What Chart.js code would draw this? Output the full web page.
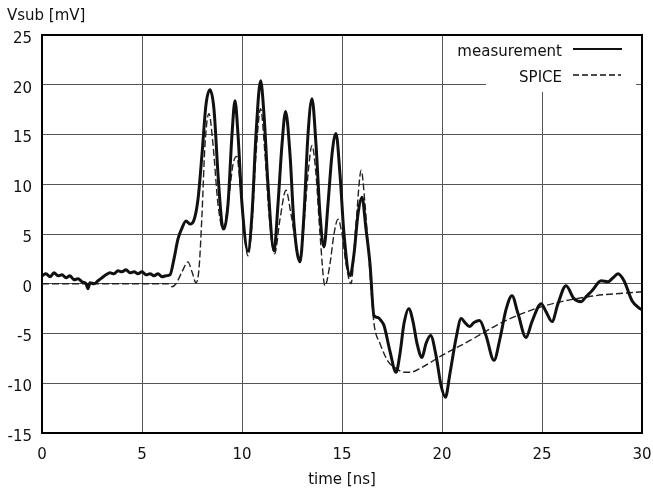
<!DOCTYPE html>
<html lang="en">
<head>
    <meta charset="UTF-8">
    <title>Vsub measurement vs SPICE</title>
    <script src="https://cdn.jsdelivr.net/npm/chart.js"></script>
    <style>
        body {
            margin: 0;
            background: #fff;
        }
        .wrap {
            width: 653px;
            height: 493px;
            position: relative;
        }
    </style>
</head>
<body>
    <div class="wrap">
        <canvas id="vsubChart"></canvas>
    </div>

    <script>
        // measured substrate voltage (ns, mV)
        const measTime = [
            0.0, 0.2, 0.4, 0.6, 0.8, 1.0, 1.2, 1.4, 1.6, 1.8, 2.0, 2.2, 2.3, 2.4, 2.6, 2.8,
            3.0, 3.2, 3.4, 3.6, 3.8, 4.0, 4.2, 4.4, 4.6, 4.8, 5.0, 5.2, 5.4, 5.6, 5.8, 6.0,
            6.2, 6.4, 6.6, 6.8, 7.0, 7.2, 7.4, 7.6, 7.8, 8.0, 8.2, 8.4, 8.6, 8.8, 9.0, 9.1,
            9.3, 9.5, 9.65, 9.8, 10.0, 10.3, 10.5, 10.7, 10.93, 11.1, 11.3, 11.6, 11.8, 12.0,
            12.18, 12.4, 12.6, 12.9, 13.1, 13.3, 13.5, 13.7, 13.9, 14.1, 14.3, 14.5, 14.7,
            14.9, 15.1, 15.4, 15.6, 15.8, 16.0, 16.2, 16.4, 16.6, 16.8, 16.95, 17.1, 17.4,
            17.7, 17.9, 18.1, 18.34, 18.55, 18.75, 19.0, 19.2, 19.43, 19.7, 19.95, 20.17,
            20.4, 20.7, 20.96, 21.15, 21.37, 21.6, 21.88, 22.2, 22.6, 22.9, 23.2, 23.5, 23.8,
            24.2, 24.5, 24.96, 25.2, 25.5, 25.8, 26.2, 26.6, 26.96, 27.2, 27.5, 27.96, 28.3,
            28.55, 28.8, 29.1, 29.5, 29.9, 30.0
        ];
        const measValue = [
            0.8, 1.0, 0.7, 1.1, 0.8, 0.9, 0.6, 0.8, 0.4, 0.5, 0.2, 0.0, -0.5, 0.1, 0.0, 0.3,
            0.6, 0.9, 1.1, 1.0, 1.3, 1.2, 1.4, 1.1, 1.2, 1.0, 1.2, 0.9, 1.0, 0.8, 1.0, 0.7,
            0.8, 0.9, 2.5, 4.5, 5.6, 6.3, 6.0, 6.4, 8.5, 13, 18, 19.5, 17.5, 11, 6, 5.5,
            8, 15, 18.4, 15, 8, 3.3, 7, 15, 20.4, 17, 10, 3.3, 8, 14,
            17.3, 13, 6, 2.2, 7, 15, 18.6, 14, 7, 3.7, 8, 13, 15.1,
            11, 5, 0.8, 3, 7, 8.7, 5.5, 2.0, -3.2, -3.4, -3.7, -4.2, -6.8,
            -8.9, -7.0, -4.0, -2.5, -3.8, -6.0, -7.4, -6.0, -5.2, -7.2, -10.2, -11.4,
            -9.0, -5.5, -3.5, -3.9, -4.3, -3.9, -3.7, -5.2, -7.7, -5.5, -2.6, -1.2, -3.0,
            -5.4, -3.8, -2.0, -2.8, -3.8, -2.0, -0.2, -1.5, -1.8, -1.3, -0.7, 0.3, 0.2,
            0.6, 1.0, 0.3, -1.7, -2.5, -2.6
        ];

        // SPICE simulation (ns, mV)
        const spiceTime = [
            0, 6.3, 6.5, 6.7, 7.0, 7.3, 7.5, 7.7, 7.85, 8.0, 8.15, 8.35, 8.55, 8.8, 9.05,
            9.3, 9.55, 9.74, 9.95, 10.3, 10.5, 10.7, 10.93, 11.15, 11.35, 11.63, 11.9, 12.2,
            12.45, 12.9, 13.1, 13.3, 13.5, 13.7, 13.9, 14.15, 14.4, 14.6, 14.8, 15.0, 15.2,
            15.45, 15.7, 15.96, 16.15, 16.4, 16.6, 16.9, 17.3, 17.7, 18.1, 18.4, 19.0, 20.0,
            21.4, 22.7, 23.4, 25.0, 27.3, 30.0
        ];
        const spiceValue = [
            0, 0, -0.3, 0.0, 1.2, 2.2, 1.2, 0.1, 1.5, 7, 14, 17.1, 14, 8, 5.5,
            8, 12, 12.8, 9, 2.8, 6, 13, 17.6, 13, 7, 3.0, 6.5, 9.4,
            7, 2.2, 6, 11, 13.9, 11, 5, -0.2, 2, 5, 6.5, 5, 2,
            0, 6, 11.4, 8, 1.0, -4.0, -6.0, -7.8, -8.5, -8.9, -8.9, -8.4, -7.2,
            -5.7, -4.2, -3.5, -2.3, -1.3, -0.8
        ];

        const xTicks = [0, 5, 10, 15, 20, 25, 30];
        const yTicks = [-15, -10, -5, 0, 5, 10, 15, 20, 25];

        const FONT = "'DejaVu Sans', sans-serif";

        // frame, y label and the gnuplot-like key
        const decorPlugin = {
            id: "decor",
            afterDraw(chart) {
                const ctx = chart.ctx;
                const a = chart.chartArea;
                ctx.save();

                // key box
                ctx.fillStyle = "#fff";
                ctx.fillRect(486, a.top + 1, 150, 56);

                ctx.fillStyle = "#111";
                ctx.font = "15px " + FONT;
                ctx.textAlign = "right";
                ctx.textBaseline = "middle";
                ctx.fillText("measurement", 562, 52);
                ctx.fillText("SPICE", 562, 78);

                ctx.strokeStyle = "#111";
                ctx.lineWidth = 2;
                ctx.beginPath();
                ctx.moveTo(573, 49);
                ctx.lineTo(622, 49);
                ctx.stroke();

                ctx.lineWidth = 1.5;
                ctx.setLineDash([6, 3]);
                ctx.beginPath();
                ctx.moveTo(573, 75);
                ctx.lineTo(621, 75);
                ctx.stroke();
                ctx.setLineDash([]);

                // frame
                ctx.lineWidth = 2;
                ctx.strokeStyle = "#000";
                ctx.strokeRect(a.left, a.top, a.right - a.left, a.bottom - a.top);

                // y axis label
                ctx.textAlign = "left";
                ctx.fillText("Vsub [mV]", 7, 16);
                ctx.restore();
            }
        };

        const ctx = document.getElementById("vsubChart").getContext("2d");
        new Chart(ctx, {
            type: "line",
            data: {
                datasets: [
                    {
                        label: "measurement",
                        data: measTime.map((t, i) => ({ x: t, y: measValue[i] })),
                        borderColor: "#111",
                        borderWidth: 3,
                        pointRadius: 0,
                        cubicInterpolationMode: "monotone",
                        fill: false
                    },
                    {
                        label: "SPICE",
                        data: spiceTime.map((t, i) => ({ x: t, y: spiceValue[i] })),
                        borderColor: "#222",
                        borderWidth: 1.4,
                        borderDash: [7, 3],
                        pointRadius: 0,
                        cubicInterpolationMode: "monotone",
                        fill: false
                    }
                ]
            },
            options: {
                responsive: true,
                maintainAspectRatio: false,
                animation: false,
                layout: {
                    padding: { top: 35, right: 11, left: 0, bottom: 0 }
                },
                plugins: {
                    legend: { display: false },
                    tooltip: { enabled: false }
                },
                scales: {
                    x: {
                        type: "linear",
                        min: 0,
                        max: 30,
                        afterBuildTicks: s => { s.ticks = xTicks.map(v => ({ value: v })); },
                        afterFit: s => {
                            s.height = 60;
                            s.paddingLeft = 0;
                            s.paddingRight = 0;
                        },
                        grid: { color: "#555", lineWidth: 1, drawTicks: false },
                        border: { display: false },
                        ticks: {
                            color: "#111",
                            padding: 13,
                            font: { family: FONT, size: 15 }
                        },
                        title: {
                            display: true,
                            text: "time [ns]",
                            color: "#111",
                            font: { family: FONT, size: 15 },
                            padding: { top: 0, bottom: 4 }
                        }
                    },
                    y: {
                        min: -15,
                        max: 25,
                        afterBuildTicks: s => { s.ticks = yTicks.map(v => ({ value: v })); },
                        afterFit: s => { s.width = 42; },
                        grid: { color: "#555", lineWidth: 1, drawTicks: false },
                        border: { display: false },
                        ticks: {
                            color: "#111",
                            padding: 10,
                            labelOffset: 4,
                            font: { family: FONT, size: 15 }
                        }
                    }
                }
            },
            plugins: [decorPlugin]
        });
    </script>
</body>
</html>
